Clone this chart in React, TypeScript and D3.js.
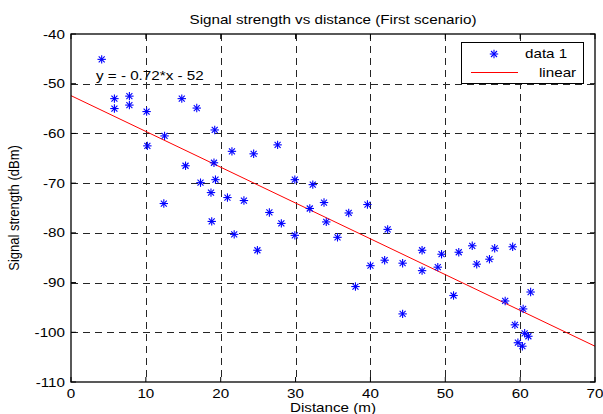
import React from "react";
import * as d3 from "d3";

const distance = [
  4.1, 5.8, 5.8, 7.8, 7.8, 10.1, 14.8, 16.8, 19.2, 12.5, 10.2, 21.5, 15.3, 19.1, 17.3, 19.3,
  18.7, 20.9, 12.4, 18.8, 21.8, 23.1, 24.4, 27.6, 29.9, 32.3, 26.5, 28.1, 31.9, 33.8, 34.1,
  37.1, 39.6, 29.9, 35.6, 24.9, 42.3, 40.0, 41.9, 44.3, 38.0, 46.9, 46.9, 49.5, 49.0, 51.8,
  53.6, 54.2, 56.6, 55.9, 59.0, 51.1, 44.3, 58.0, 61.4, 60.4, 59.3, 60.6, 61.1, 59.7, 60.3,
];
const signal = [
  -45.1, -53.0, -55.0, -52.5, -54.3, -55.6, -53.0, -54.9, -59.3, -60.5, -62.5, -63.6, -66.5,
  -65.9, -69.9, -69.3, -71.9, -72.9, -74.1, -77.7, -80.3, -73.5, -64.1, -62.3, -69.3, -70.3,
  -75.9, -78.1, -75.1, -73.9, -77.8, -76.0, -74.3, -80.5, -80.9, -83.5, -79.3, -86.6, -85.5,
  -86.1, -90.8, -83.5, -87.6, -84.3, -86.9, -83.9, -82.6, -86.3, -83.1, -85.3, -82.8, -92.6,
  -96.3, -93.7, -91.9, -95.3, -98.5, -100.2, -100.8, -102.1, -102.8,
];
const fitSlope = -0.72;
const fitIntercept = -52.4;
const fitRange = [0, 70];
const xTicks = [0, 10, 20, 30, 40, 50, 60, 70];
const yTicks = [-110, -100, -90, -80, -70, -60, -50, -40];
const titleText = "Signal strength vs distance (First scenario)";
const xLabel = "Distance (m)";
const yLabel = "Signal strength (dBm)";
const equationText = "y = - 0.72*x - 52";
const legendLabels = ["data 1", "linear"];

const W = 603;
const H = 414;
const L = 71, R = 595, T = 34, B = 382;
const SX = 1.17;
const FONT = "'Liberation Sans', Arial, Helvetica, sans-serif";
const FS = 13;

function Txt({ x, y, anchor = "start", rotate = 0, children }: any) {
  const tr = `translate(${x},${y}) scale(${SX},1)` + (rotate ? ` rotate(${rotate})` : "");
  return (
    <text transform={tr} textAnchor={anchor} fontFamily={FONT} fontSize={FS} fill="#000">
      {children}
    </text>
  );
}

function Star({ x, y, color = "#0000ff" }: any) {
  const a = 4.2, d = 3;
  return (
    <g stroke={color} strokeWidth={1.1}>
      <line x1={x - a} y1={y} x2={x + a} y2={y} />
      <line x1={x} y1={y - a} x2={x} y2={y + a} />
      <line x1={x - d} y1={y - d} x2={x + d} y2={y + d} />
      <line x1={x - d} y1={y + d} x2={x + d} y2={y - d} />
    </g>
  );
}

export default function App() {
  const xs = d3.scaleLinear().domain([0, 70]).range([L, R]);
  const ys = d3.scaleLinear().domain([-110, -40]).range([B, T]);
  const fitPts = fitRange.map((x) => [x, fitSlope * x + fitIntercept] as [number, number]);
  const line = d3
    .line<[number, number]>()
    .x((d) => xs(d[0]))
    .y((d) => ys(d[1]));

  return (
    <svg
      width={W}
      height={H}
      style={{ position: "absolute", left: 0, top: 0, background: "#fff" }}
    >
      <rect x={0} y={0} width={W} height={H} fill="#fff" />
      {/* grid */}
      <g stroke="#000" strokeWidth={1} strokeDasharray="7,5" opacity={0.85}>
        {xTicks.slice(1, -1).map((t) => (
          <line key={"gx" + t} x1={Math.round(xs(t)) + 0.5} x2={Math.round(xs(t)) + 0.5} y1={T} y2={B} />
        ))}
        {yTicks.slice(1, -1).map((t) => (
          <line key={"gy" + t} x1={L} x2={R} y1={Math.round(ys(t)) + 0.5} y2={Math.round(ys(t)) + 0.5} />
        ))}
      </g>
      {/* fit line */}
      <path d={line(fitPts) || ""} fill="none" stroke="#ff0000" strokeWidth={1} />
      {/* points */}
      {distance.map((d, i) => (
        <Star key={i} x={xs(d)} y={ys(signal[i])} />
      ))}
      {/* axes box */}
      <rect x={L} y={T} width={R - L} height={B - T} fill="none" stroke="#000" strokeWidth={1.3} />
      {/* ticks */}
      <g stroke="#000" strokeWidth={1}>
        {xTicks.map((t) => (
          <g key={"tx" + t}>
            <line x1={xs(t)} x2={xs(t)} y1={B} y2={B - 5} />
            <line x1={xs(t)} x2={xs(t)} y1={T} y2={T + 5} />
          </g>
        ))}
        {yTicks.map((t) => (
          <g key={"ty" + t}>
            <line x1={L} x2={L + 5} y1={ys(t)} y2={ys(t)} />
            <line x1={R} x2={R - 5} y1={ys(t)} y2={ys(t)} />
          </g>
        ))}
      </g>
      {/* tick labels */}
      {xTicks.map((t) => (
        <Txt key={"lx" + t} x={xs(t)} y={B + 16} anchor="middle">
          {t}
        </Txt>
      ))}
      {yTicks.map((t) => (
        <Txt key={"ly" + t} x={L - 6} y={ys(t) + 4.5} anchor="end">
          {t}
        </Txt>
      ))}
      {/* title and labels */}
      <Txt x={(L + R) / 2} y={24} anchor="middle">
        {titleText}
      </Txt>
      <Txt x={(L + R) / 2} y={412} anchor="middle">
        {xLabel}
      </Txt>
      <Txt x={19} y={(T + B) / 2} anchor="middle" rotate={-90}>
        {yLabel}
      </Txt>
      {/* equation */}
      <Txt x={96} y={80}>
        {equationText}
      </Txt>
      {/* legend */}
      <rect x={461.5} y={42.5} width={122} height={41} fill="#fff" stroke="#000" strokeWidth={1} />
      <Star x={494} y={54} />
      <Txt x={525} y={58}>
        {legendLabels[0]}
      </Txt>
      <line x1={471} x2={518} y1={72.5} y2={72.5} stroke="#ff0000" strokeWidth={1} />
      <Txt x={539} y={77}>
        {legendLabels[1]}
      </Txt>
    </svg>
  );
}
